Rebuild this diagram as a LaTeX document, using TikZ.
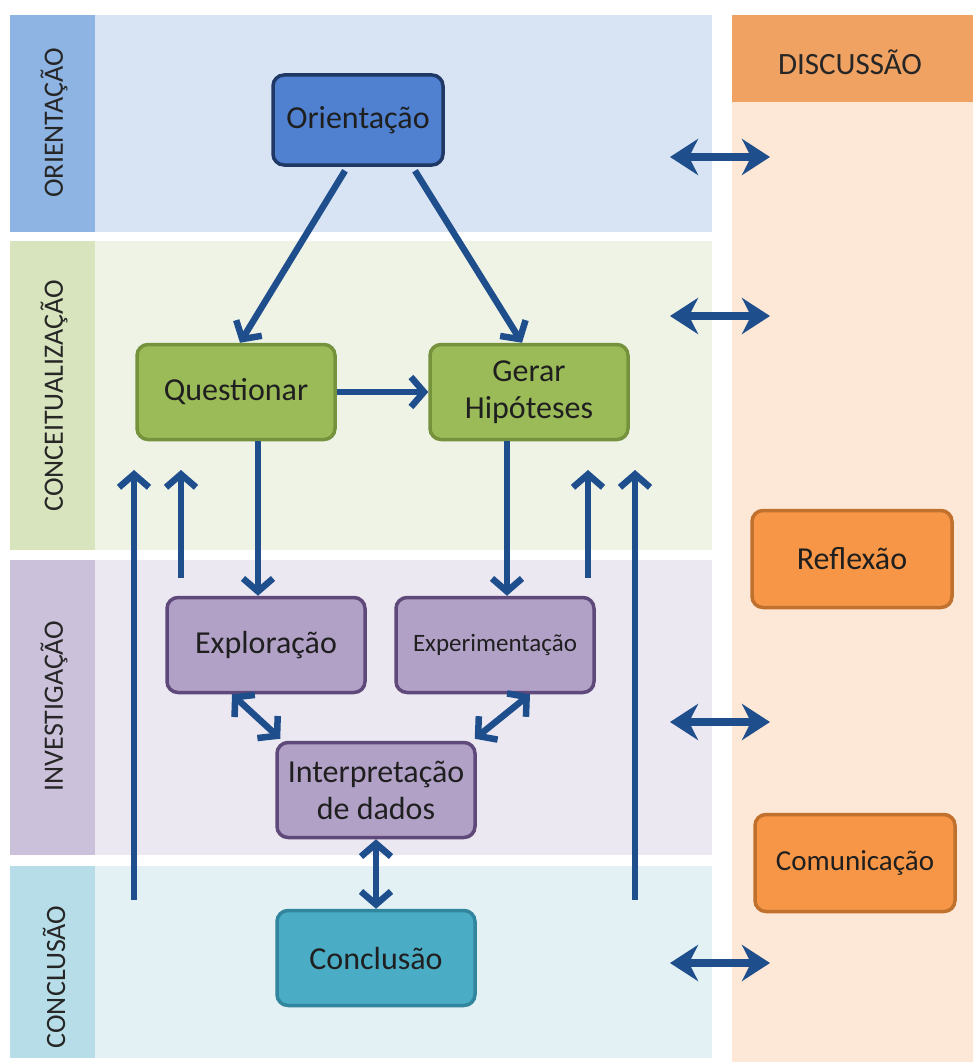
\documentclass[tikz,border=0pt]{standalone}
\usepackage{fontspec}
\setmainfont{Carlito}
\usetikzlibrary{arrows.meta, positioning}

\definecolor{oriband}{HTML}{D8E4F4}
\definecolor{oristrip}{HTML}{8EB4E3}
\definecolor{conband}{HTML}{EFF3E6}
\definecolor{constrip}{HTML}{D7E4BD}
\definecolor{invband}{HTML}{ECE8F2}
\definecolor{invstrip}{HTML}{CCC1DA}
\definecolor{cluband}{HTML}{E3F1F5}
\definecolor{clustrip}{HTML}{B7DDE8}
\definecolor{disband}{HTML}{FDE7D6}
\definecolor{disstrip}{HTML}{F0A262}
\definecolor{arrowblue}{HTML}{1F4E8C}
\definecolor{orifill}{HTML}{4F81D0}
\definecolor{oriline}{HTML}{1F3864}
\definecolor{confill}{HTML}{9BBB59}
\definecolor{conline}{HTML}{76923C}
\definecolor{invfill}{HTML}{B2A1C7}
\definecolor{invline}{HTML}{5F497A}
\definecolor{clufill}{HTML}{4BACC6}
\definecolor{cluline}{HTML}{31859C}
\definecolor{disfill}{HTML}{F79646}
\definecolor{disline}{HTML}{C0712D}

\begin{document}
\begin{tikzpicture}[x=1pt, y=-1pt,
    stage/.style={rectangle, draw, rounded corners=11pt, align=center, line width=3.5pt, minimum width=198pt, minimum height=95pt, font=\fontsize{32}{37}\selectfont, text=black!88},
    orinode/.style={stage, fill=orifill, draw=oriline, minimum width=170pt, minimum height=90pt},
    connode/.style={stage, fill=confill, draw=conline},
    invnode/.style={stage, fill=invfill, draw=invline},
    clunode/.style={stage, fill=clufill, draw=cluline},
    disnode/.style={stage, fill=disfill, draw=disline, minimum width=200pt, minimum height=97pt},
    phase/.style={rotate=90, font=\fontsize{28}{32}\selectfont, text=black!85},
    arrow/.style={-{Straight Barb[length=13pt, width=30pt, line width=6.5pt]}, line width=6.5pt, draw=arrowblue},
    twoway/.style={{Straight Barb[length=13pt, width=30pt, line width=6.5pt]}-{Straight Barb[length=13pt, width=30pt, line width=6.5pt]}, line width=6.5pt, draw=arrowblue},
    link/.style={{Stealth[length=28pt, width=36pt, inset=9pt]}-{Stealth[length=28pt, width=36pt, inset=9pt]}, line width=8.5pt, draw=arrowblue}
]

\useasboundingbox[fill=white] (0,0) rectangle (973,1062);

% Bands
\fill[oriband] (95,15) rectangle (712,232);
\fill[oristrip] (10,15) rectangle (95,232);
\fill[conband] (95,241) rectangle (712,550);
\fill[constrip] (10,241) rectangle (95,550);
\fill[invband] (95,560) rectangle (712,855);
\fill[invstrip] (10,560) rectangle (95,855);
\fill[cluband] (95,866) rectangle (712,1058);
\fill[clustrip] (10,866) rectangle (95,1058);
\fill[disband] (732,15) rectangle (973,1062);
\fill[disstrip] (732,15) rectangle (973,102);

% Phase labels
\node (pori) [phase] at (54,123) {ORIENTAÇÃO};
\node (pcon) [phase] at (54,396) {CONCEITUALIZAÇÃO};
\node (pinv) [phase] at (54,706) {INVESTIGAÇÃO};
\node (pclu) [phase] at (54,977) {CONCLUSÃO};
\node (pdis) [font=\fontsize{31}{36}\selectfont, text=black!85] at (850,62) {DISCUSSÃO};

% Nodes
\node (ori) [orinode] at (358,120) {Orientação};
\node (quest) [connode] at (236,392) {Questionar};
\node (gerar) [connode] at (529,392) {Gerar\\Hipóteses};
\node (expl) [invnode] at (266,645) {Exploração};
\node (exper) [invnode, font=\fontsize{25}{30}\selectfont] at (495,645) {Experimentação};
\node (interp) [invnode] at (376,790) {Interpretação\\de dados};
\node (concl) [clunode] at (376,958) {Conclusão};
\node (refl) [disnode] at (852,559) {Reflexão};
\node (comun) [disnode, font=\fontsize{29}{34}\selectfont] at (855,863) {Comunicação};

% Arrows
\draw [arrow] ([xshift=-13pt, yshift=-4pt]ori.south) -- ([xshift=4pt]quest.north);
\draw [arrow] ([xshift=57pt, yshift=-4pt]ori.south) -- ([xshift=-7pt]gerar.north);
\draw [arrow] (quest.east) -- (gerar.west);
\draw [arrow] ([xshift=22pt]quest.south) -- ([xshift=-8pt]expl.north);
\draw [arrow] ([xshift=-22pt]gerar.south) -- ([xshift=12pt]exper.north);
\draw [twoway] ([xshift=-34pt]expl.south) -- ([xshift=5pt, yshift=2pt]interp.north west);
\draw [twoway] ([xshift=35pt]exper.south) -- ([xshift=-2pt, yshift=2pt]interp.north east);
\draw [twoway] (interp.south) -- (concl.north);

% Feedback arrows
\foreach \n/\x/\y in {a/134/900, b/181/578, c/588/578, d/635/900} {
  \coordinate (up\n) at (\x,\y);
  \coordinate (top\n) at (\x,470);
  \draw [arrow] (up\n) -- (top\n);
}

% Discussion links
\foreach \n/\y in {1/157, 2/316, 3/722, 4/963} {
  \coordinate (dl\n) at (670,\y);
  \coordinate (dr\n) at (770,\y);
  \draw [link] (dl\n) -- (dr\n);
}

\end{tikzpicture}
\end{document}
